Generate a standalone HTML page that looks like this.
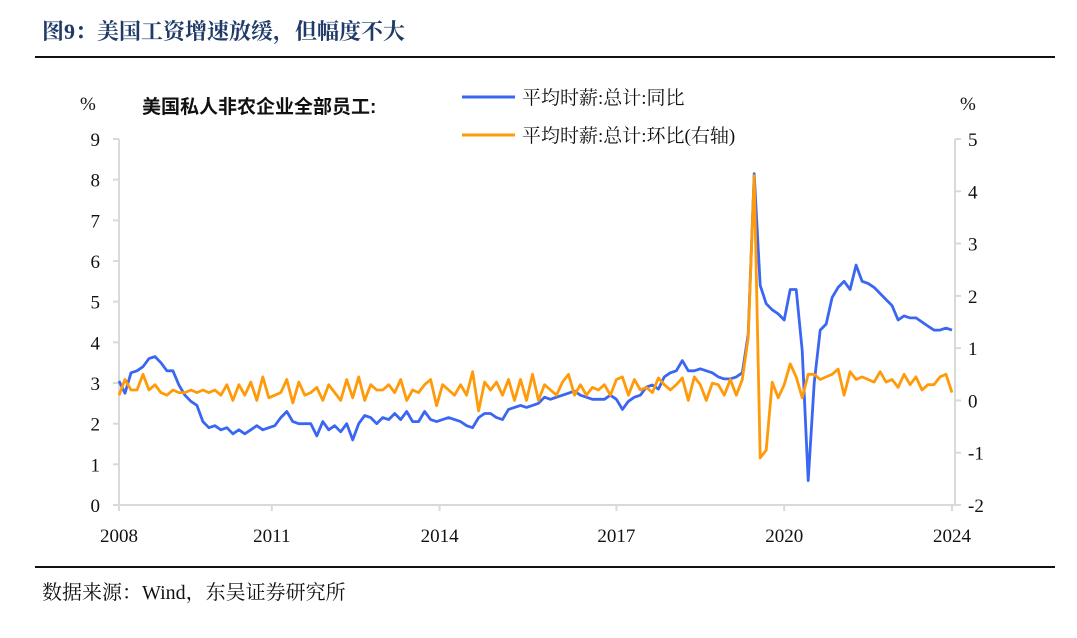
<!DOCTYPE html>
<html><head><meta charset="utf-8"><style>
body{margin:0;background:#fff;width:1077px;height:633px;overflow:hidden;font-family:"Liberation Serif","Noto Serif CJK SC",serif;}
</style></head><body>
<svg width="1077" height="633" xmlns="http://www.w3.org/2000/svg">
<text x="42" y="39" font-size="22" font-weight="bold" fill="#1f3a68" font-family="Liberation Serif, Noto Serif CJK SC, serif">图9：美国工资增速放缓，但幅度不大</text>
<line x1="35" y1="57" x2="1055" y2="57" stroke="#111" stroke-width="2"/>
<line x1="35" y1="567" x2="1055" y2="567" stroke="#111" stroke-width="2"/>
<text x="42" y="599" font-size="20" fill="#111">数据来源：Wind，东吴证券研究所</text>
<g id="axes"></g>
<g id="series"></g>
<text x="80" y="110" font-size="19" fill="#111">%</text>
<text x="960" y="110" font-size="19" fill="#111">%</text>
<text x="142" y="113" font-size="19" font-weight="bold" fill="#111" font-family="Liberation Sans, Noto Sans CJK SC, sans-serif">美国私人非农企业全部员工:</text>
<g>
<line x1="462" y1="97" x2="515" y2="97" stroke="#3a66f2" stroke-width="3"/>
<text x="522" y="104" font-size="19" fill="#111">平均时薪:总计:同比</text></g>
<g>
<line x1="462" y1="135" x2="515" y2="135" stroke="#ff9a0a" stroke-width="3"/>
<text x="522" y="142" font-size="19" fill="#111">平均时薪:总计:环比(右轴)</text></g>
</svg>
<script>
const yoyValues=[3.05,2.75,3.25,3.3,3.4,3.6,3.65,3.5,3.3,3.3,2.95,2.7,2.55,2.45,2.05,1.9,1.95,1.85,1.9,1.75,1.85,1.75,1.85,1.95,1.85,1.9,1.95,2.15,2.3,2.05,2.0,2.0,2.0,1.7,2.05,1.85,1.95,1.8,2.0,1.6,2.0,2.2,2.15,2.0,2.15,2.1,2.25,2.1,2.3,2.05,2.05,2.3,2.1,2.05,2.1,2.15,
2.1,2.05,1.95,1.9,2.15,2.25,2.25,2.15,2.1,2.35,2.4,2.45,2.4,2.45,2.5,2.65,2.6,2.65,2.7,2.75,2.8,2.7,2.65,2.6,2.6,2.6,2.7,2.6,2.35,2.55,2.65,2.7,2.9,2.95,2.85,3.15,3.25,3.3,3.55,3.3,3.3,3.35,3.3,3.25,3.15,3.1,3.1,3.15,3.25,4.2,8.15,5.4,4.95,4.8,4.7,4.55,5.3,5.3,3.8,0.6,3.0,4.3,4.45,5.1,5.35,5.5,5.3,5.9,5.5,5.45,5.35,5.2,5.05,4.9,4.55,4.65,4.6,4.6,4.5,4.4,4.3,4.3,4.35,4.3];
const momValues=[0.1,0.4,0.2,0.2,0.5,0.2,0.3,0.15,0.1,0.2,0.15,0.15,0.2,0.15,0.2,0.15,0.2,0.1,0.3,0.0,0.3,0.1,0.35,0.0,0.45,0.05,0.1,0.15,0.4,-0.05,0.35,0.1,0.15,0.25,0.0,0.3,0.15,0.0,0.4,0.05,0.45,0.0,0.3,0.2,0.2,0.3,0.15,0.4,0.0,0.2,0.15,0.3,0.4,-0.1,0.3,0.2,
0.1,0.3,0.1,0.55,-0.2,0.35,0.2,0.35,0.1,0.4,0.0,0.4,0.0,0.5,0.0,0.3,0.2,0.1,0.35,0.5,0.1,0.3,0.1,0.25,0.2,0.3,0.1,0.4,0.45,0.1,0.4,0.2,0.25,0.15,0.43,0.3,0.2,0.3,0.43,0.0,0.45,0.3,0.0,0.33,0.3,0.1,0.4,0.1,0.4,1.2,4.3,-1.1,-0.95,0.35,0.05,0.3,0.7,0.45,0.05,0.5,0.5,0.4,0.45,0.5,0.6,0.1,0.55,0.4,0.45,0.4,0.35,0.55,0.35,0.4,0.25,0.5,0.3,0.45,0.2,0.3,0.3,0.45,0.5,0.15];
const leftTicks=[0,1,2,3,4,5,6,7,8,9];
const rightTicks=[-2,-1,0,1,2,3,4,5];
const xTickLabels=["2008","2011","2014","2017","2020","2024"];
const xTickIndex=[0,25.5,53.5,83,111,139];

const NS="http://www.w3.org/2000/svg";
const X0=119,X1=952,YB=505,YT=139;
const N=yoyValues.length;
function xs(i){return X0+i*(X1-X0)/(N-1);}
function yL(v){return YB-(v-0)/(9-0)*(YB-YT);}
function yR(v){return YB-(v+2)/(5+2)*(YB-YT);}
function mk(tag,attrs,parent){const e=document.createElementNS(NS,tag);for(const k in attrs)e.setAttribute(k,attrs[k]);parent.appendChild(e);return e;}
const axes=document.getElementById('axes'),series=document.getElementById('series');
const la=mk('line',{x1:119,y1:YT,x2:119,y2:YB,stroke:'#d9d9d9','stroke-width':2},axes);


const ra=mk('line',{x1:955,y1:YT,x2:955,y2:YB,stroke:'#d9d9d9','stroke-width':2},axes);


const ba=mk('line',{x1:119,y1:YB,x2:955,y2:YB,stroke:'#d9d9d9','stroke-width':2},axes);


leftTicks.forEach(v=>{
  const y=yL(v);
  mk('line',{x1:113,y1:y,x2:119,y2:y,stroke:'#d9d9d9','stroke-width':2},axes);
  const t=mk('text',{x:100,y:y+7,'font-size':19,'text-anchor':'end',fill:'#111'},axes);
  t.textContent=v;
  
  
});
rightTicks.forEach(v=>{
  const y=yR(v);
  mk('line',{x1:955,y1:y,x2:961,y2:y,stroke:'#d9d9d9','stroke-width':2},axes);
  const t=mk('text',{x:968,y:y+7,'font-size':19,'text-anchor':'start',fill:'#111'},axes);
  t.textContent=v;
  
  
});
xTickLabels.forEach((l,k)=>{
  const x=xs(xTickIndex[k]);
  mk('line',{x1:x,y1:YB,x2:x,y2:YB+6,stroke:'#d9d9d9','stroke-width':2},axes);
  const t=mk('text',{x:x,y:542,'font-size':19,'text-anchor':'middle',fill:'#111'},axes);
  t.textContent=l;
  
  
});
const p1=mk('polyline',{points:yoyValues.map((v,i)=>xs(i).toFixed(1)+','+yL(v).toFixed(1)).join(' '),fill:'none',stroke:'#3a66f2','stroke-width':2.8,'stroke-linejoin':'round'},series);


const p2=mk('polyline',{points:momValues.map((v,i)=>xs(i).toFixed(1)+','+yR(v).toFixed(1)).join(' '),fill:'none',stroke:'#ff9a0a','stroke-width':2.8,'stroke-linejoin':'round'},series);


</script>
</body></html>
